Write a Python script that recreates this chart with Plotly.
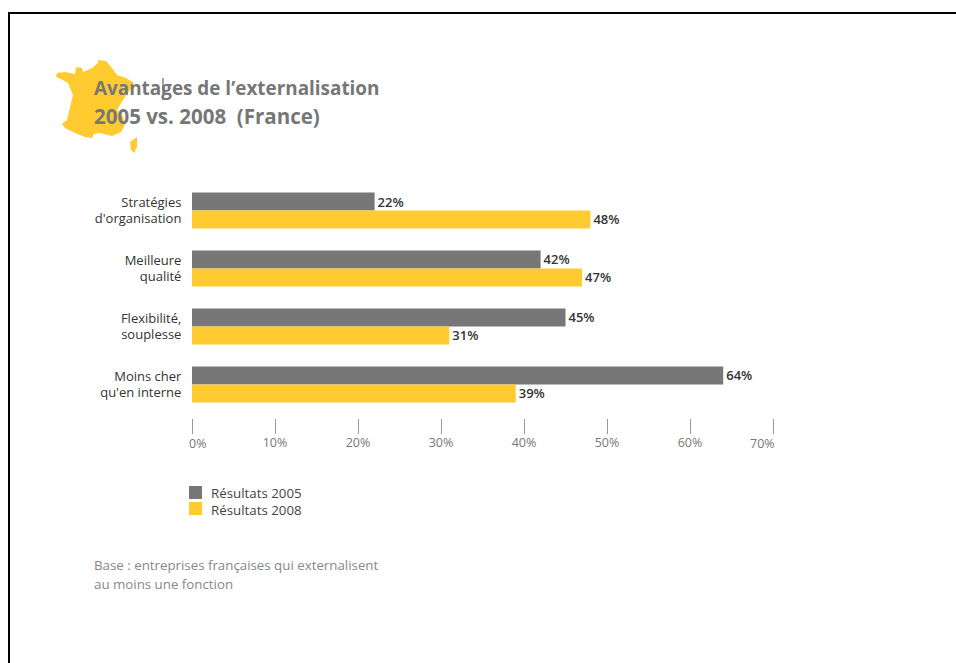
import plotly.graph_objects as go

WIDTH, HEIGHT = 956, 663

categories = ["Stratégies<br>d'organisation", "Meilleure<br>qualité",
              "Flexibilité,<br>souplesse", "Moins cher<br>qu'en interne"]
results_2005 = [22, 42, 45, 64]
results_2008 = [48, 47, 31, 39]
series_names = ["Résultats 2005", "Résultats 2008"]
axis_ticks = [0, 10, 20, 30, 40, 50, 60, 70]
title_lines = ["Avantages de l’externalisation", "2005 vs. 2008\u00a0\u00a0(France)"]
note_lines = ["Base : entreprises françaises qui externalisent", "au moins une fonction"]

GREY = "#777777"
YELLOW = "#FFCB31"
FONT = "Open Sans"

# Outline of mainland France and Corsica, in page pixels
france_outline = [(98, 60), (106, 61), (112, 68), (117, 75), (126, 78), (134, 83), (130, 90),
                  (125, 97), (121, 103), (117, 110), (123, 117), (125, 125), (121, 132),
                  (112, 136), (100, 133), (94, 134), (92, 138), (85, 137), (75, 133), (65, 128),
                  (62, 124), (67, 120), (71, 103), (73, 95), (68, 83), (63, 80), (56, 77),
                  (57, 73), (65, 72), (75, 74), (76, 67), (82, 68), (83, 72), (92, 68), (98, 63)]
corsica_outline = [(137, 137), (137, 147), (134, 153), (131, 150), (130, 142)]


def px(x):
    return x / WIDTH


def py(y):
    return 1 - y / HEIGHT


def svg_path(points):
    head, *rest = points
    path = f"M{px(head[0])},{py(head[1])}"
    path += "".join(f"L{px(x)},{py(y)}" for x, y in rest)
    return path + "Z"


def page_text(x, y, text, size, color, anchor="left", weight=400):
    return dict(x=px(x), y=py(y), xref="paper", yref="paper", text=text, showarrow=False,
                xanchor=anchor, yanchor="middle", align=anchor,
                font=dict(family=FONT, size=size, color=color, weight=weight))


def page_rect(x0, y0, x1, y1, color):
    return dict(type="rect", x0=px(x0), x1=px(x1), y0=py(y0), y1=py(y1),
                xref="paper", yref="paper", fillcolor=color, line_width=0)


fig = go.Figure()
for name, values, color in zip(series_names, [results_2005, results_2008], [GREY, YELLOW]):
    fig.add_bar(
        name=name, y=categories, x=values, orientation="h", marker=dict(color=color, line_width=0),
        text=[f"{v}%" for v in values], textposition="outside", cliponaxis=False,
        textfont=dict(family=FONT, size=13, color="#333333", weight=600),
    )

shapes = [
    dict(type="path", path=svg_path(france_outline), xref="paper", yref="paper",
         fillcolor=YELLOW, line_width=0, layer="below"),
    dict(type="path", path=svg_path(corsica_outline), xref="paper", yref="paper",
         fillcolor=YELLOW, line_width=0, layer="below"),
    # Frame along the top and left of the page
    dict(type="line", x0=px(8.5), x1=1, y0=py(13), y1=py(13), xref="paper", yref="paper",
         line=dict(color="black", width=2)),
    dict(type="line", x0=px(9), x1=px(9), y0=py(12), y1=0, xref="paper", yref="paper",
         line=dict(color="black", width=2)),
    # Text cursor left in the heading
    dict(type="line", x0=px(163), x1=px(163), y0=py(78), y1=py(100), xref="paper", yref="paper",
         line=dict(color="#444444", width=1)),
    # Legend swatches
    page_rect(189, 486, 202, 499, GREY),
    page_rect(189, 502, 202, 515, YELLOW),
]

annotations = [
    page_text(92, 88, title_lines[0], 18.9, GREY, weight=700),
    page_text(92, 116, title_lines[1], 20.5, GREY, weight=700),
    page_text(92, 565, note_lines[0], 13.3, "#888888"),
    page_text(92, 584, note_lines[1], 13.3, "#888888"),
    page_text(208.5, 501, "<br>".join(series_names), 13.3, "#444444"),
    # The end labels sit inward of their ticks
    page_text(197.5, 443, f"{axis_ticks[0]}%", 12.5, GREY, anchor="center"),
    page_text(762, 443, f"{axis_ticks[-1]}%", 12.5, GREY, anchor="center"),
]

tick_text = [f"{t}%" if t not in (axis_ticks[0], axis_ticks[-1]) else "" for t in axis_ticks]

fig.update_layout(
    width=WIDTH, height=HEIGHT, margin=dict(l=0, r=0, t=0, b=0),
    paper_bgcolor="white", plot_bgcolor="white",
    barmode="group", bargap=0.38, bargroupgap=0,
    shapes=shapes, annotations=annotations,
    font=dict(family=FONT), showlegend=False,
    xaxis=dict(
        domain=[px(192), px(773)], range=[0, 70], tickvals=axis_ticks, ticktext=tick_text,
        ticks="outside", ticklen=15, tickwidth=1, tickcolor="#999999", ticklabelstandoff=-2,
        showgrid=False, zeroline=False, showline=False,
        tickfont=dict(family=FONT, size=12.5, color=GREY),
    ),
    yaxis=dict(
        domain=[py(418), py(181.5)], range=[3.578, -0.5], showgrid=False, zeroline=False,
        showline=False, ticks="outside", ticklen=7, tickcolor="rgba(0,0,0,0)",
        tickfont=dict(family=FONT, size=13, color="#333333"),
    ),
)

fig.write_html("out.html")
